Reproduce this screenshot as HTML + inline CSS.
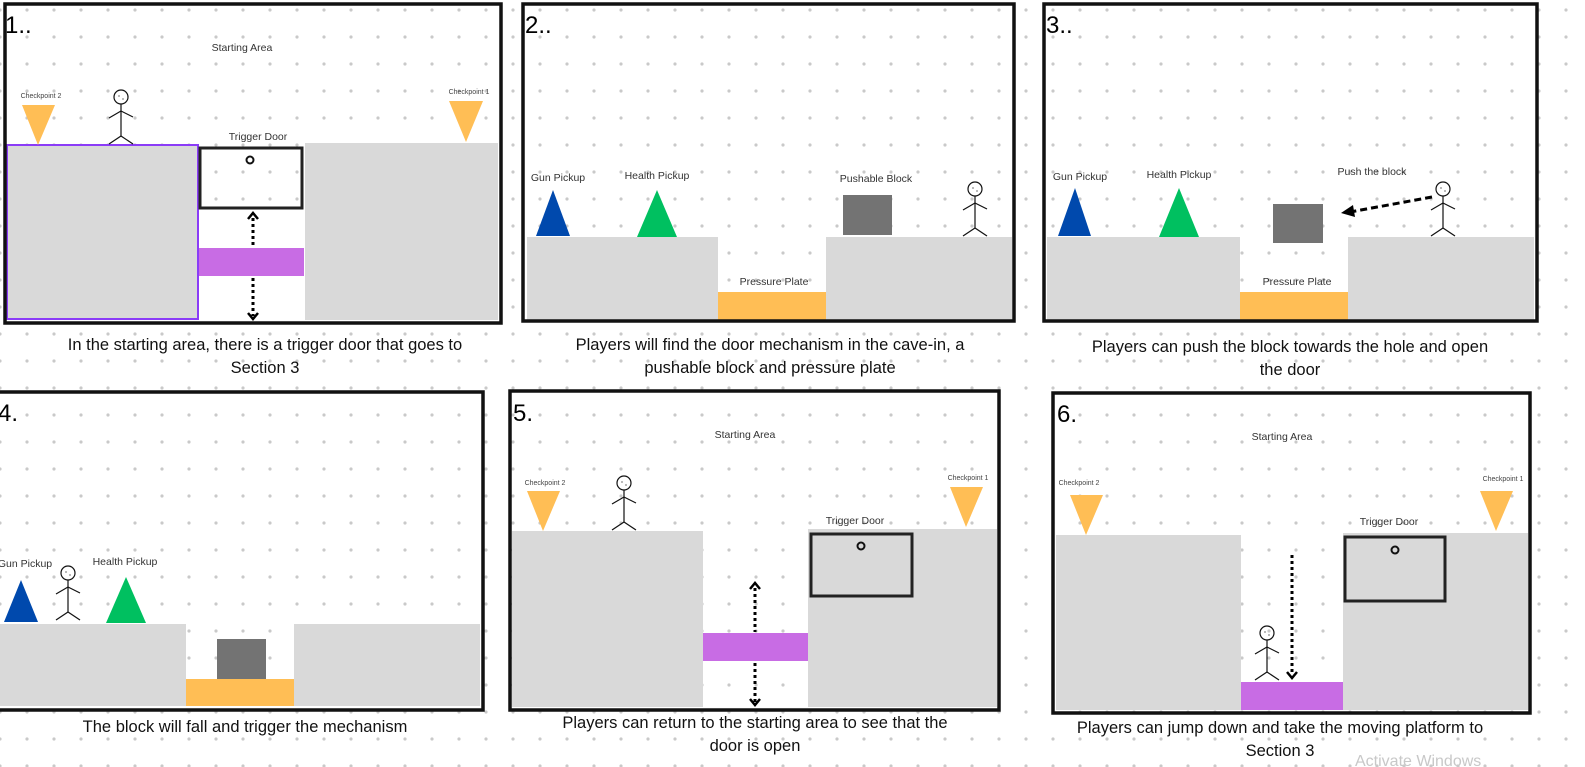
<!DOCTYPE html>
<html><head><meta charset="utf-8"><style>
html,body{margin:0;padding:0;background:#fff;}
svg{display:block;}
text{font-family:"Liberation Sans",sans-serif;fill:#222;}
.cap{font-size:16.5px;text-anchor:middle;fill:#111;}
.lbl{font-size:10.5px;text-anchor:middle;fill:#333;}
.cp{font-size:7px;text-anchor:middle;fill:#444;}
.num{font-size:24px;fill:#000;}
.g{fill:#d9d9d9;}
.fr{fill:none;stroke:#111;stroke-width:3.5;}
.door{fill:none;stroke:#222;stroke-width:3;}
.tri{fill:#ffbe55;}
.pl{fill:#c86ce4;}
.or{fill:#ffbe55;}
.ar{stroke:#000;stroke-width:3;stroke-dasharray:3 3;fill:none;}
.ah{stroke:#000;stroke-width:2.5;fill:none;}
.fig{stroke:#111;stroke-width:1.2;fill:none;}
</style></head><body>
<svg width="1585" height="767" viewBox="0 0 1585 767" xmlns="http://www.w3.org/2000/svg">
<defs>
<pattern id="dots" x="0" y="10" width="27" height="27" patternUnits="userSpaceOnUse"><circle cx="0" cy="0" r="1.6" fill="#c9c9c9"/><circle cx="27" cy="0" r="1.6" fill="#c9c9c9"/><circle cx="0" cy="27" r="1.6" fill="#c9c9c9"/><circle cx="27" cy="27" r="1.6" fill="#c9c9c9"/></pattern>
<g id="stick"><circle cx="0" cy="-47" r="7" class="fig"/><circle cx="-2" cy="-48" r="0.6" fill="#111"/><circle cx="2" cy="-45" r="0.6" fill="#111"/><line x1="0" y1="-40" x2="0" y2="-8" class="fig"/><line x1="-12" y1="-26" x2="0" y2="-33" class="fig"/><line x1="0" y1="-33" x2="12" y2="-27" class="fig"/><line x1="0" y1="-8" x2="-12" y2="0" class="fig"/><line x1="0" y1="-8" x2="12" y2="0" class="fig"/></g>
</defs>
<rect width="1585" height="767" fill="url(#dots)"/>

<!-- Panel 1 -->
<g>
<rect x="5" y="4" width="496" height="319" fill="#fff"/>
<rect x="5" y="4" width="496" height="319" fill="url(#dots)"/>
<rect x="7" y="145" width="191" height="174" class="g" stroke="#8b3cf7" stroke-width="2"/>
<rect x="305" y="143" width="193" height="177" class="g"/>
<rect x="199" y="213" width="105" height="107" fill="#fff"/>
<rect x="200" y="148" width="102" height="60" fill="#fff" class="door"/>
<circle cx="250" cy="160" r="3.5" fill="none" stroke="#111" stroke-width="2"/>
<rect x="199" y="248" width="105" height="28" class="pl"/>
<line x1="253" y1="218" x2="253" y2="247" class="ar"/><line x1="253" y1="278" x2="253" y2="316" class="ar"/>
<polyline points="248,219 253,213 258,219" class="ah"/><polyline points="248,313 253,319 258,313" class="ah"/>
<polygon points="22,105 55,105 38,145" class="tri"/>
<polygon points="449,101 483,101 466,142" class="tri"/>
<text x="41" y="98" class="cp">Checkpoint 2</text><text x="469" y="94" class="cp">Checkpoint 1</text>
<text x="242" y="51" class="lbl">Starting Area</text><text x="258" y="140" class="lbl">Trigger Door</text>
<use href="#stick" x="121" y="144"/>
<rect x="5" y="4" width="496" height="319" class="fr"/>
<text x="5" y="33" class="num">1..</text>
</g>
<text x="265" y="350" class="cap">In the starting area, there is a trigger door that goes to</text>
<text x="265" y="373" class="cap">Section 3</text>

<!-- Panel 2 -->
<g>
<rect x="523" y="4" width="491" height="317" fill="#fff"/>
<rect x="523" y="4" width="491" height="317" fill="url(#dots)"/>
<rect x="527" y="237" width="191" height="83" class="g"/>
<rect x="718" y="292" width="108" height="28" class="or"/>
<rect x="826" y="237" width="186" height="83" class="g"/>
<polygon points="536,236 570,236 553,190" fill="#0049ad"/>
<polygon points="637,237 677,237 657,190" fill="#00c060"/>
<rect x="843" y="195" width="49" height="40" fill="#737373"/>
<use href="#stick" x="975" y="236"/>
<text x="558" y="181" class="lbl">Gun Pickup</text><text x="657" y="179" class="lbl">Health Pickup</text>
<text x="876" y="182" class="lbl">Pushable Block</text><text x="774" y="285" class="lbl">Pressure Plate</text>
<rect x="523" y="4" width="491" height="317" class="fr"/>
<text x="525" y="33" class="num">2..</text>
</g>
<text x="770" y="350" class="cap">Players will find the door mechanism in the cave-in, a</text>
<text x="770" y="373" class="cap">pushable block and pressure plate</text>

<!-- Panel 3 -->
<g>
<rect x="1044" y="4" width="493" height="317" fill="#fff"/>
<rect x="1044" y="4" width="493" height="317" fill="url(#dots)"/>
<rect x="1047" y="237" width="193" height="83" class="g"/>
<rect x="1240" y="292" width="108" height="28" class="or"/>
<rect x="1348" y="237" width="186" height="83" class="g"/>
<polygon points="1058,236 1091,236 1075,188" fill="#0049ad"/>
<polygon points="1159,237 1199,237 1179,188" fill="#00c060"/>
<rect x="1273" y="204" width="50" height="39" fill="#737373"/>
<line x1="1432" y1="197" x2="1350" y2="212" stroke="#000" stroke-width="3" stroke-dasharray="7 4"/>
<polygon points="1341,213 1353,205 1355,217" fill="#000"/>
<use href="#stick" x="1443" y="236"/>
<text x="1080" y="180" class="lbl">Gun Pickup</text><text x="1179" y="178" class="lbl">Health Pickup</text>
<text x="1372" y="175" class="lbl">Push the block</text><text x="1297" y="285" class="lbl">Pressure Plate</text>
<rect x="1044" y="4" width="493" height="317" class="fr"/>
<text x="1046" y="33" class="num">3..</text>
</g>
<text x="1290" y="352" class="cap">Players can push the block towards the hole and open</text>
<text x="1290" y="375" class="cap">the door</text>

<!-- Panel 4 -->
<g>
<rect x="-3" y="392" width="486" height="318" fill="#fff"/>
<rect x="-3" y="392" width="486" height="318" fill="url(#dots)"/>
<rect x="0" y="624" width="186" height="82" class="g"/>
<rect x="186" y="679" width="108" height="27" class="or"/>
<rect x="217" y="639" width="49" height="40" fill="#737373"/>
<rect x="294" y="624" width="186" height="82" class="g"/>
<polygon points="4,622 38,622 21,580" fill="#0049ad"/>
<polygon points="106,623 146,623 126,577" fill="#00c060"/>
<use href="#stick" x="68" y="620"/>
<text x="25" y="567" class="lbl">Gun Pickup</text><text x="125" y="565" class="lbl">Health Pickup</text>
<rect x="-3" y="392" width="486" height="318" class="fr"/>
<text x="-2" y="421" class="num">4.</text>
</g>
<text x="245" y="732" class="cap">The block will fall and trigger the mechanism</text>

<!-- Panel 5 -->
<g>
<rect x="510" y="391" width="489" height="319" fill="#fff"/>
<rect x="510" y="391" width="489" height="319" fill="url(#dots)"/>
<rect x="512" y="531" width="191" height="176" class="g"/>
<rect x="808" y="529" width="189" height="178" class="g"/>
<rect x="811" y="534" width="101" height="62" class="door"/>
<circle cx="861" cy="546" r="3.5" fill="none" stroke="#111" stroke-width="2"/>
<rect x="703" y="633" width="105" height="28" class="pl"/>
<line x1="755" y1="588" x2="755" y2="632" class="ar"/><line x1="755" y1="663" x2="755" y2="702" class="ar"/>
<polyline points="750,589 755,583 760,589" class="ah"/><polyline points="750,699 755,705 760,699" class="ah"/>
<polygon points="527,491 560,491 543,531" class="tri"/>
<polygon points="950,487 983,487 966,527" class="tri"/>
<text x="545" y="485" class="cp">Checkpoint 2</text><text x="968" y="480" class="cp">Checkpoint 1</text>
<text x="745" y="438" class="lbl">Starting Area</text><text x="855" y="524" class="lbl">Trigger Door</text>
<use href="#stick" x="624" y="530"/>
<rect x="510" y="391" width="489" height="319" class="fr"/>
<text x="513" y="421" class="num">5.</text>
</g>
<text x="755" y="728" class="cap">Players can return to the starting area to see that the</text>
<text x="755" y="751" class="cap">door is open</text>

<!-- Panel 6 -->
<g>
<rect x="1053" y="393" width="477" height="320" fill="#fff"/>
<rect x="1053" y="393" width="477" height="320" fill="url(#dots)"/>
<rect x="1056" y="535" width="185" height="175" class="g"/>
<rect x="1343" y="533" width="185" height="177" class="g"/>
<rect x="1345" y="537" width="100" height="64" class="door"/>
<circle cx="1395" cy="550" r="3.5" fill="none" stroke="#111" stroke-width="2"/>
<rect x="1241" y="682" width="102" height="28" class="pl"/>
<line x1="1292" y1="555" x2="1292" y2="674" class="ar"/>
<polyline points="1287,672 1292,678 1297,672" class="ah"/>
<polygon points="1070,495 1103,495 1086,535" class="tri"/>
<polygon points="1480,491 1513,491 1496,531" class="tri"/>
<text x="1079" y="485" class="cp">Checkpoint 2</text><text x="1503" y="481" class="cp">Checkpoint 1</text>
<text x="1282" y="440" class="lbl">Starting Area</text><text x="1389" y="525" class="lbl">Trigger Door</text>
<use href="#stick" x="1267" y="680"/>
<rect x="1053" y="393" width="477" height="320" class="fr"/>
<text x="1057" y="422" class="num">6.</text>
</g>
<text x="1280" y="733" class="cap">Players can jump down and take the moving platform to</text>
<text x="1280" y="756" class="cap">Section 3</text>
<text x="1355" y="766" style="font-size:16px;fill:#c8c8c8">Activate Windows</text>
</svg>
</body></html>
